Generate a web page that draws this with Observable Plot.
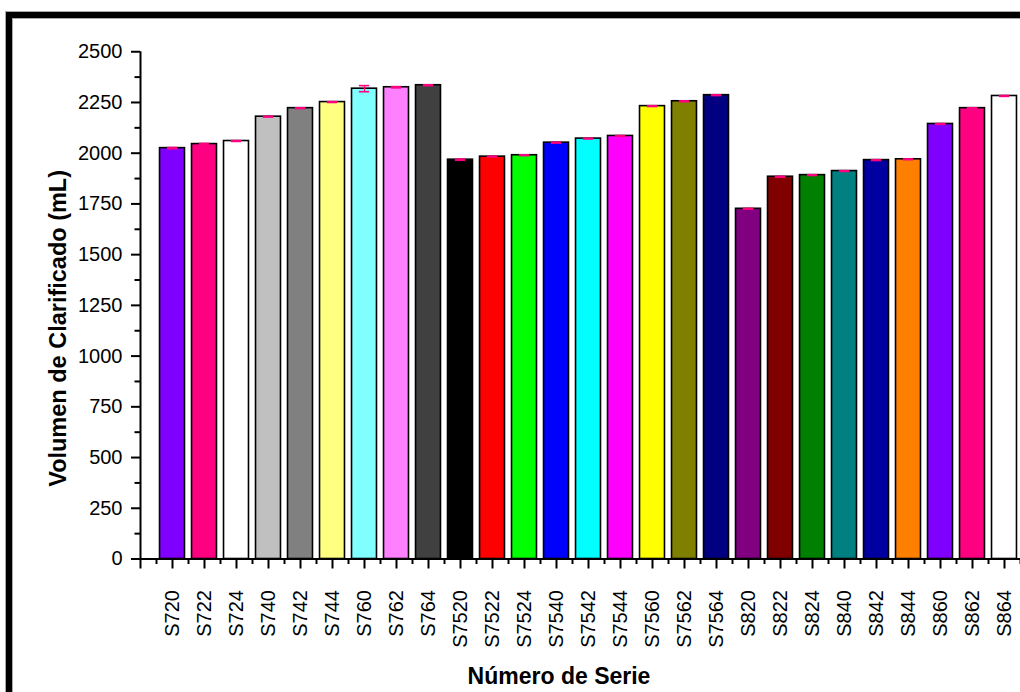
<!DOCTYPE html>
<html>
<head>
<meta charset="utf-8">
<script src="https://cdn.jsdelivr.net/npm/d3@7"></script>
<script src="https://cdn.jsdelivr.net/npm/@observablehq/plot@0.6"></script>
<style>
  html, body { margin: 0; padding: 0; background: #fff; overflow: hidden; }
  #wrap { position: relative; width: 1020px; height: 692px; overflow: hidden; background: #fff; }
  #frame { position: absolute; left: 6px; top: 12px; width: 1200px; height: 900px;
           border: 6px solid #000; box-shadow: 0 0 0 1px #aaa, inset 0 0 0 1px #aaa; pointer-events: none; }
  #chart { position: absolute; left: 0; top: 0; }
</style>
</head>
<body>
<div id="wrap"><div id="chart"></div><div id="frame"></div></div>
<script>
const series = ["S720","S722","S724","S740","S742","S744","S760","S762","S764",
  "S7520","S7522","S7524","S7540","S7542","S7544","S7560","S7562","S7564",
  "S820","S822","S824","S840","S842","S844","S860","S862","S864"];
const volume = [2025,2045,2060,2180,2222,2252,2318,2325,2335,
  1968,1983,1990,2052,2072,2085,2232,2256,2286,
  1726,1884,1892,1912,1966,1970,2144,2222,2282];
const errors = [3,3,2,2,2,2,15,3,2,
  3,2,2,2,2,2,2,2,2,
  2,2,2,2,2,2,2,2,2];
const colors = ["#8000FF","#FF0080","#FFFFFF","#C0C0C0","#808080","#FFFF80","#80FFFF","#FF80FF","#404040",
  "#000000","#FF0000","#00FF00","#0000FF","#00FFFF","#FF00FF","#FFFF00","#808000","#000080",
  "#800080","#800000","#008000","#008080","#0000A0","#FF8000","#8000FF","#FF0080","#FFFFFF"];
const yTicks = [0,250,500,750,1000,1250,1500,1750,2000,2250,2500];
const yTitle = "Volumen de Clarificado (mL)";
const xTitle = "Número de Serie";

const data = series.map((s, k) => ({s, i: k + 1, v: volume[k], e: errors[k], c: colors[k]}));

const W = 1020, H = 692;
const y0px = 558.5, ytop = 51.25, xLeft = 140, step = 32;
const pxPerY = (y0px - ytop) / 2500;
const yLen = px => px / pxPerY;   // pixel length -> y units
const xLen = px => px / step;     // pixel length -> x units
const font = "'Liberation Sans', Arial, Helvetica, sans-serif";

const xMajor = d3.range(0, series.length + 2);
const xMinor = d3.range(0.5, series.length + 1, 1);
const yMinor = d3.range(125, 2500, 250);

const plot = Plot.plot({
  width: W,
  height: H,
  marginLeft: xLeft,
  marginRight: 0,
  marginTop: ytop,
  marginBottom: H - y0px,
  style: {background: "transparent", fontFamily: font, overflow: "hidden"},
  x: {type: "linear", domain: [0, series.length + 1], range: [xLeft, xLeft + step * (series.length + 1)], axis: null},
  y: {type: "linear", domain: [0, 2500], range: [y0px, ytop], axis: null},
  color: {type: "identity"},
  marks: [
    Plot.rect(data, {x1: d => d.i - 0.39, x2: d => d.i + 0.39, y1: 0, y2: "v",
      fill: d => d.c, stroke: "#000", strokeWidth: 1.6}),
    Plot.ruleX(data, {x: "i", y1: d => d.v - d.e, y2: d => d.v + d.e, stroke: "#FF0080", strokeWidth: 1.2}),
    Plot.ruleY(data, {y: d => d.v + d.e, x1: d => d.i - 0.16, x2: d => d.i + 0.16, stroke: "#FF0080", strokeWidth: 1.6}),
    Plot.ruleY(data, {y: d => d.v - d.e, x1: d => d.i - 0.16, x2: d => d.i + 0.16, stroke: "#FF0080", strokeWidth: 1.6}),
    // axes lines
    Plot.ruleY([0], {x1: 0, x2: series.length + 1, stroke: "#000", strokeWidth: 2}),
    Plot.ruleX([0], {y1: 0, y2: 2500, stroke: "#000", strokeWidth: 2}),
    // x ticks
    Plot.ruleX(xMajor, {x: d => d, y1: 0, y2: -yLen(10), stroke: "#000", strokeWidth: 2}),
    Plot.ruleX(xMinor, {x: d => d, y1: 0, y2: -yLen(5.5), stroke: "#000", strokeWidth: 2}),
    // y ticks
    Plot.ruleY(yTicks, {y: d => d, x1: 0, x2: -xLen(9), stroke: "#000", strokeWidth: 2}),
    Plot.ruleY(yMinor, {y: d => d, x1: 0, x2: -xLen(5.5), stroke: "#000", strokeWidth: 2}),
    // tick labels
    Plot.text(yTicks, {x: 0, y: d => d, text: d => String(d), textAnchor: "end", dx: -18,
      fontSize: 20, fill: "#000"}),
    Plot.text(data, {x: "i", y: 0, text: "s", rotate: -90, textAnchor: "end", dy: 31,
      fontSize: 20, fill: "#000"}),
    // titles
    Plot.text([xTitle], {frameAnchor: "bottom", text: d => d, textAnchor: "middle", lineAnchor: "middle",
      dx: -21.5, dy: 117.5, fontSize: 23, fontWeight: "bold", fill: "#000"}),
    Plot.text([yTitle], {frameAnchor: "left", text: d => d, rotate: -90, textAnchor: "middle", lineAnchor: "middle",
      dx: -82, dy: 23, fontSize: 23.5, fontWeight: "bold", fill: "#000"})
  ]
});
document.getElementById("chart").appendChild(plot);
</script>
</body>
</html>
